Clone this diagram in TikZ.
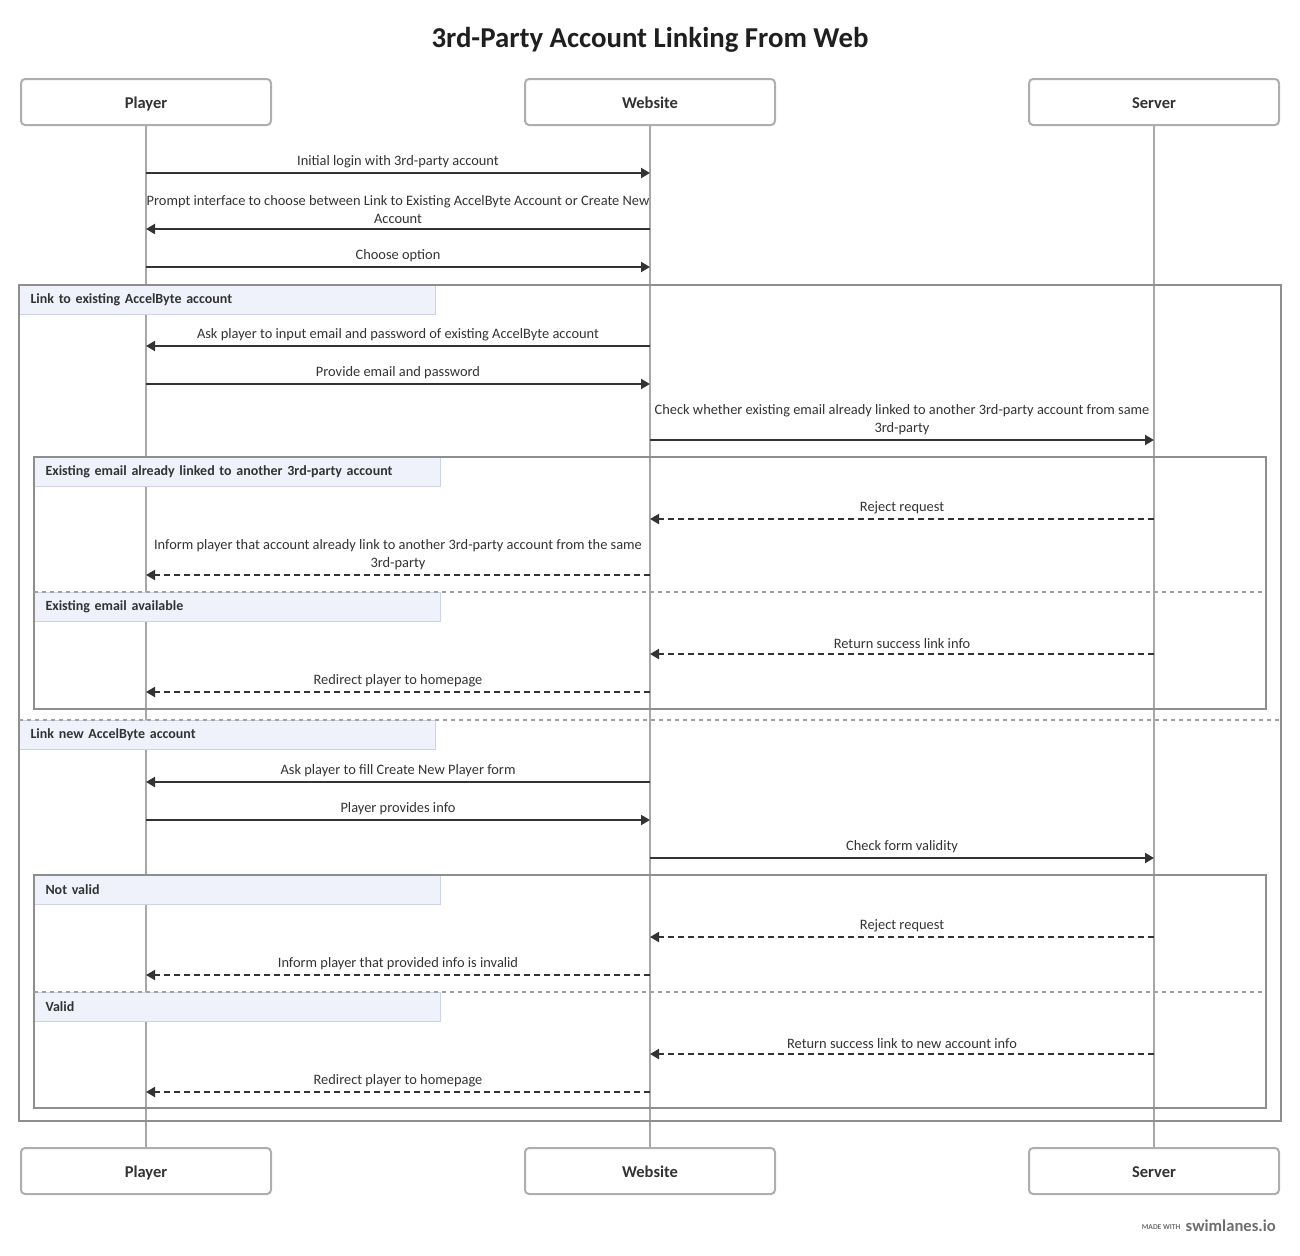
\documentclass[tikz,border=0pt]{standalone}
\usepackage{fontspec}
\setmainfont{Carlito}
\usepackage{xcolor}
\definecolor{txtc}{HTML}{333333}
\definecolor{titlec}{HTML}{1F1F1F}
\definecolor{linec}{HTML}{333333}
\definecolor{lifec}{HTML}{A8A8A8}
\definecolor{framec}{HTML}{8E8E8E}
\definecolor{sepc}{HTML}{A0A0A0}
\definecolor{tagc}{HTML}{EFF2FB}
\definecolor{tagb}{HTML}{CDD3E2}
\definecolor{boxb}{HTML}{AEAEAE}
\definecolor{brandc}{HTML}{6E6E6E}
\usetikzlibrary{arrows.meta,positioning,calc}
\tikzset{
  actor/.style={draw=boxb,line width=2pt,rounded corners=4pt,fill=white,minimum width=250pt,minimum height=46pt,inner sep=0pt,text height=14pt,text depth=2pt,font=\bfseries\fontsize{16.5}{19}\selectfont,text=txtc},
  life/.style={draw=lifec,line width=2pt},
  msg/.style={-{Triangle[length=9pt,width=10pt]},line width=2pt,draw=linec},
  reply/.style={msg,dash pattern=on 6pt off 4pt},
  mlabel/.style={font=\fontsize{14.4}{18}\selectfont,text=txtc,align=center,above,inner sep=4pt},
  frame/.style={draw=framec,line width=2pt},
  sep/.style={draw=sepc,line width=1.5pt,dash pattern=on 4pt off 4pt},
  tag/.style={draw=tagb,fill=tagc,line width=1pt,anchor=north west,minimum height=29pt,inner ysep=0pt,inner xsep=11pt,text width=#1,align=left,text=txtc,font=\bfseries\fontsize{14}{16}\selectfont},
}
\newcommand{\sendmsg}[6][msg]{\coordinate (#2a) at (#3 |- 0,#5);\coordinate (#2b) at (#4 |- 0,#5);
  \draw[#1] (#2a) -- node[mlabel]{#6} (#2b);}

\begin{document}
\begin{tikzpicture}[x=1pt,y=-1pt]
  \useasboundingbox (0,0) rectangle (1300,1255);
  \node[font=\bfseries\fontsize{28.8}{32}\selectfont,text=titlec] (title) at (650,40) {3rd-Party Account Linking From Web};
  % participants, top and bottom
  \node[actor] (P) at (146,102) {Player};
  \node[actor] (W) at (650,102) {Website};
  \node[actor] (S) at (1154,102) {Server};
  \node[actor] (Pb) at (146,1171) {Player};
  \node[actor] (Wb) at (650,1171) {Website};
  \node[actor] (Sb) at (1154,1171) {Server};
  \draw[life] (P) -- (Pb);
  \draw[life] (W) -- (Wb);
  \draw[life] (S) -- (Sb);
  % group tags and frames
  \node[tag=394pt] (g1) at (19,285) {Link to existing AccelByte account};
  \node[tag=384pt] (g1a) at (34,457) {Existing email already linked to another 3rd-party account};
  \node[tag=384pt] (g1b) at (34,592) {Existing email available};
  \node[tag=394pt] (g2) at (19,720) {Link new AccelByte account};
  \node[tag=384pt] (g2a) at (34,875) {Not valid};
  \node[tag=384pt] (g2b) at (34,992) {Valid};
  \draw[frame] (19,285) rectangle (1281,1121);
  \draw[frame] (34,457) rectangle (1266,709);
  \draw[frame] (34,875) rectangle (1266,1108);
  \draw[sep] (g1b.north west) -- (1266,592);
  \draw[sep] (g2.north west) -- (1281,720);
  \draw[sep] (g2b.north west) -- (1266,992);
  % messages
  \sendmsg{m1}{P}{W}{173}{Initial login with 3rd-party account}
  \sendmsg{m2}{W}{P}{229}{Prompt interface to choose between Link to Existing AccelByte Account or Create New\\Account}
  \sendmsg{m3}{P}{W}{267}{Choose option}
  \sendmsg{m4}{W}{P}{346}{Ask player to input email and password of existing AccelByte account}
  \sendmsg{m5}{P}{W}{384}{Provide email and password}
  \sendmsg{m6}{W}{S}{440}{Check whether existing email already linked to another 3rd-party account from same\\3rd-party}
  \sendmsg[reply]{m7}{S}{W}{519}{Reject request}
  \sendmsg[reply]{m8}{W}{P}{575}{Inform player that account already link to another 3rd-party account from the same\\3rd-party}
  \sendmsg[reply]{m9}{S}{W}{654}{Return success link info}
  \sendmsg[reply]{m10}{W}{P}{692}{Redirect player to homepage}
  \sendmsg{m11}{W}{P}{782}{Ask player to fill Create New Player form}
  \sendmsg{m12}{P}{W}{820}{Player provides info}
  \sendmsg{m13}{W}{S}{858}{Check form validity}
  \sendmsg[reply]{m14}{S}{W}{937}{Reject request}
  \sendmsg[reply]{m15}{W}{P}{975}{Inform player that provided info is invalid}
  \sendmsg[reply]{m16}{S}{W}{1054}{Return success link to new account info}
  \sendmsg[reply]{m17}{W}{P}{1092}{Redirect player to homepage}
  % footer
  \node[anchor=east,inner sep=0pt,text=brandc,font=\bfseries\fontsize{16.6}{20}\selectfont] (brand) at (1276,1226) {swimlanes.io};
  \node[left=5pt of brand.south west,anchor=south east,inner sep=0pt,yshift=2pt,text=brandc,font=\bfseries\fontsize{7.5}{8}\selectfont] (made) {MADE WITH};
\end{tikzpicture}
\end{document}
